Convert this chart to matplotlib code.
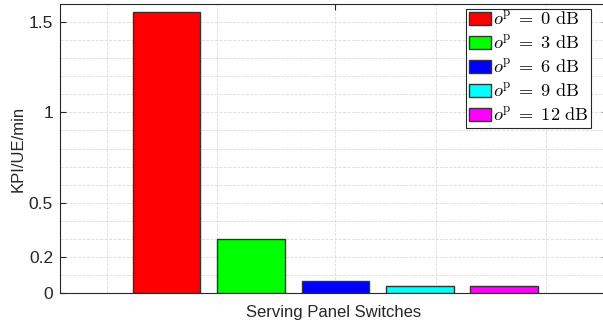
import numpy as np
import matplotlib.pyplot as plt
from matplotlib.ticker import FixedLocator, MultipleLocator

plt.rcParams['mathtext.fontset'] = 'cm'
plt.rcParams['font.family'] = ['Liberation Sans', 'DejaVu Sans']

# Werte
offsets_db = [0, 3, 6, 9, 12]
kpi_values = [1.553, 0.297, 0.066, 0.040, 0.036]
bar_colors = ['#ff0000', '#00ff00', '#0000ff', '#00ffff', '#ff00ff']
y_ticks = [0, 0.2, 0.5, 1, 1.5]
y_tick_labels = ['0', '0.2', '0.5', '1', '1.5']

W, H = 603, 324
fig = plt.figure(figsize=(W / 100, H / 100), dpi=100)
ax = fig.add_axes([60 / W, 31 / H, 548 / W, 289 / H])

# gruppierte Balken wie in MATLAB (eine Gruppe, 5 Balken)
center = 1.016
n = len(kpi_values)
group_w = min(0.8, n / (n + 1.5))
step = group_w / n
for i, (val, col, db) in enumerate(zip(kpi_values, bar_colors, offsets_db)):
    x = center + (i - (n - 1) / 2) * step
    ax.bar(x, val, width=step * 0.8, color=col, edgecolor='#333333',
           linewidth=1.0, zorder=3,
           label=r'$o^{\mathrm{p}}\;=\;%d\ \mathrm{dB}$' % db)

ax.set_xlim(0.514, 1.513)
ax.set_ylim(0, 1.6)

ax.set_xticks([center])
ax.set_xticklabels([''])
ax.xaxis.set_minor_locator(FixedLocator([0.6, 0.8, 1.2, 1.4]))
ax.set_yticks(y_ticks)
ax.set_yticklabels(y_tick_labels)
ax.yaxis.set_minor_locator(MultipleLocator(0.1))

ax.tick_params(which='major', direction='in', length=4, width=0.8,
               colors='#262626', labelsize=12.5, top=True, right=True)
ax.tick_params(which='minor', length=0)
ax.tick_params(axis='y', pad=5)

ax.grid(True, which='both', linestyle='--', color='#dcdcdc',
        linewidth=0.6, zorder=0)
ax.set_axisbelow(True)

for sp in ax.spines.values():
    sp.set_color('#262626')
    sp.set_linewidth(0.8)

ax.set_ylabel('KPI/UE/min', fontsize=12, color='#262626', labelpad=2)
ax.set_xlabel('Serving Panel Switches', fontsize=12, color='#262626',
              labelpad=5)

leg = ax.legend(loc='upper right', bbox_to_anchor=(591 / W, 1 - 9 / H),
                bbox_transform=fig.transFigure, fontsize=13.2,
                fancybox=False, framealpha=1, edgecolor='#262626',
                handlelength=1.2, handleheight=0.7, handletextpad=0.08,
                borderpad=0.15, labelspacing=0.38, borderaxespad=0)
leg.get_frame().set_linewidth(0.8)

fig.savefig('out.png', dpi=100)
